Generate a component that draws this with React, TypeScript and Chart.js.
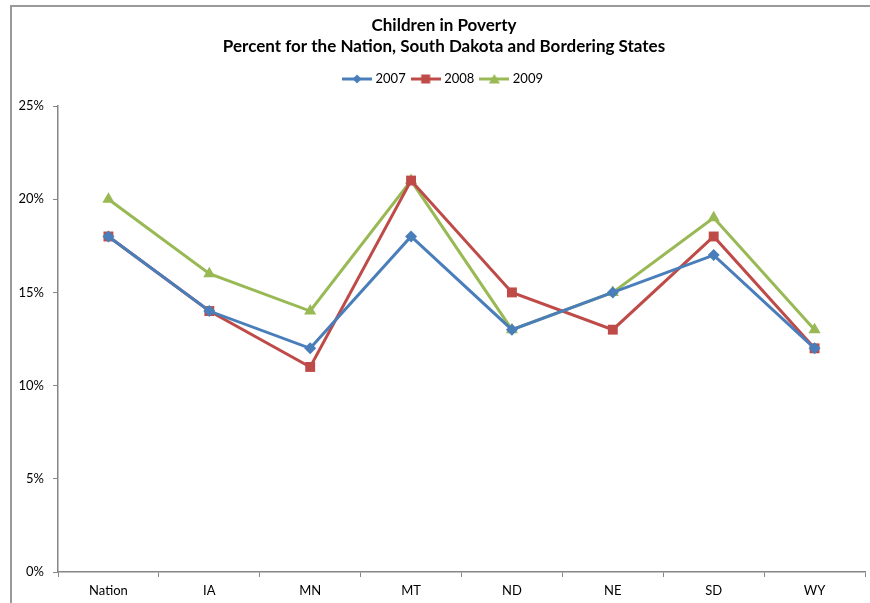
import React, { useEffect, useRef } from "react";
import { Chart, registerables, layouts } from "chart.js";

Chart.register(...registerables);

const categories = ["Nation", "IA", "MN", "MT", "ND", "NE", "SD", "WY"];
const series2007 = [18, 14, 12, 18, 13, 15, 17, 12];
const series2008 = [18, 14, 11, 21, 15, 13, 18, 12];
const series2009 = [20, 16, 14, 21, 13, 15, 19, 13];
const yTicks = [0, 5, 10, 15, 20, 25];

const BLUE = "#4A7EBB";
const RED = "#BE4B48";
const GREEN = "#98B954";
const FONT = "Lato, 'Open Sans', sans-serif";

function legendIcon(color: string, style: string) {
  const c = document.createElement("canvas");
  c.width = 30;
  c.height = 12;
  const ctx = c.getContext("2d")!;
  ctx.strokeStyle = color;
  ctx.fillStyle = color;
  ctx.lineWidth = 3;
  ctx.beginPath();
  ctx.moveTo(0, 6);
  ctx.lineTo(30, 6);
  ctx.stroke();
  ctx.beginPath();
  if (style === "diamond") {
    ctx.moveTo(15, 1.5);
    ctx.lineTo(19.5, 6);
    ctx.lineTo(15, 10.5);
    ctx.lineTo(10.5, 6);
  } else if (style === "rect") {
    ctx.rect(10.5, 1.5, 9, 9);
  } else {
    ctx.moveTo(15, 1);
    ctx.lineTo(20.5, 10.5);
    ctx.lineTo(9.5, 10.5);
  }
  ctx.closePath();
  ctx.fill();
  return c;
}

const borderPlugin = {
  id: "outerBorder",
  beforeDraw(chart: any) {
    const ctx = chart.ctx;
    ctx.save();
    ctx.fillStyle = "#ffffff";
    ctx.fillRect(0, 0, chart.width, chart.height);
    ctx.strokeStyle = "#9a9a9a";
    ctx.lineWidth = 2;
    ctx.strokeRect(11, 6, chart.width - 22, chart.height + 20);
    ctx.restore();
  },
};

const spacerPlugin = {
  id: "legendSpacer",
  beforeInit(chart: any) {
    const box: any = {
      position: "top",
      weight: 1,
      fullSize: true,
      options: {},
      width: 0,
      height: 0,
      left: 0,
      top: 0,
      right: 0,
      bottom: 0,
      update(maxWidth: number) {
        box.width = maxWidth;
        box.height = 10.5;
      },
      isHorizontal() {
        return true;
      },
      draw() {},
    };
    layouts.addBox(chart, box);
  },
};

export default function App() {
  const ref = useRef<HTMLCanvasElement>(null);

  useEffect(() => {
    const icons = [
      legendIcon(BLUE, "diamond"),
      legendIcon(RED, "rect"),
      legendIcon(GREEN, "triangle"),
    ];
    const chart = new Chart(ref.current!, {
      type: "line",
      data: {
        labels: categories,
        datasets: [
          {
            label: "2007",
            data: series2007,
            borderColor: BLUE,
            backgroundColor: BLUE,
            borderWidth: 3,
            pointStyle: "rectRot",
            pointRadius: 6,
            pointBorderWidth: 0,
          },
          {
            label: "2008",
            data: series2008,
            borderColor: RED,
            backgroundColor: RED,
            borderWidth: 3,
            pointStyle: "rect",
            pointRadius: 7,
            pointBorderWidth: 0,
          },
          {
            label: "2009",
            data: series2009,
            borderColor: GREEN,
            backgroundColor: GREEN,
            borderWidth: 3,
            pointStyle: "triangle",
            pointRadius: 7,
            pointBorderWidth: 0,
          },
        ],
      },
      options: {
        responsive: false,
        animation: false,
        layout: { padding: { left: 23, right: 23, top: 0, bottom: 0 } },
        plugins: {
          title: {
            display: true,
            text: [
              "Children in Poverty",
              "Percent for the Nation, South Dakota and Bordering States",
            ],
            color: "#000",
            font: { family: FONT, size: 17, weight: "bold", lineHeight: 1.25 },
            padding: { top: 15, bottom: 7 },
          },
          legend: {
            display: true,
            position: "top",
            labels: {
              color: "#000",
              font: { family: FONT, size: 13 },
              usePointStyle: true,
              pointStyleWidth: 24,
              padding: 8,
              generateLabels: (ch: any) =>
                ch.data.datasets.map((ds: any, i: number) => ({
                  text: ds.label,
                  pointStyle: icons[i],
                  fillStyle: ds.borderColor,
                  strokeStyle: ds.borderColor,
                  lineWidth: 0,
                  hidden: false,
                  datasetIndex: i,
                  fontColor: "#000",
                })),
            },
          },
          tooltip: { enabled: false },
        },
        scales: {
          x: {
            offset: true,
            grid: {
              offset: true,
              drawOnChartArea: false,
              drawTicks: true,
              tickLength: 5,
              color: "#868686",
            },
            border: { display: true, color: "#868686", width: 1.5 },
            ticks: {
              color: "#000",
              font: { family: FONT, size: 13 },
              padding: 6,
              maxRotation: 0,
            },
            afterFit: (s: any) => {
              s.height = 31;
            },
          },
          y: {
            min: 0,
            max: 25,
            afterBuildTicks: (s: any) => {
              s.ticks = yTicks.map((v) => ({ value: v }));
            },
            grid: {
              drawOnChartArea: false,
              drawTicks: true,
              tickLength: 5,
              color: "#868686",
            },
            border: { display: true, color: "#868686", width: 1.5 },
            ticks: {
              color: "#000",
              font: { family: FONT, size: 13 },
              padding: 9,
              callback: (v: any) => v + "%",
            },
            afterFit: (s: any) => {
              s.width = 35;
              s._computeLabelArea = () => undefined;
            },
          },
        },
      },
      plugins: [borderPlugin, spacerPlugin],
    });
    return () => chart.destroy();
  }, []);

  return (
    <div
      style={{
        position: "fixed",
        left: 0,
        top: 0,
        width: 870,
        height: 603,
        overflow: "hidden",
        background: "#fff",
      }}
    >
      <canvas ref={ref} width={888} height={603} style={{ display: "block" }} />
    </div>
  );
}
